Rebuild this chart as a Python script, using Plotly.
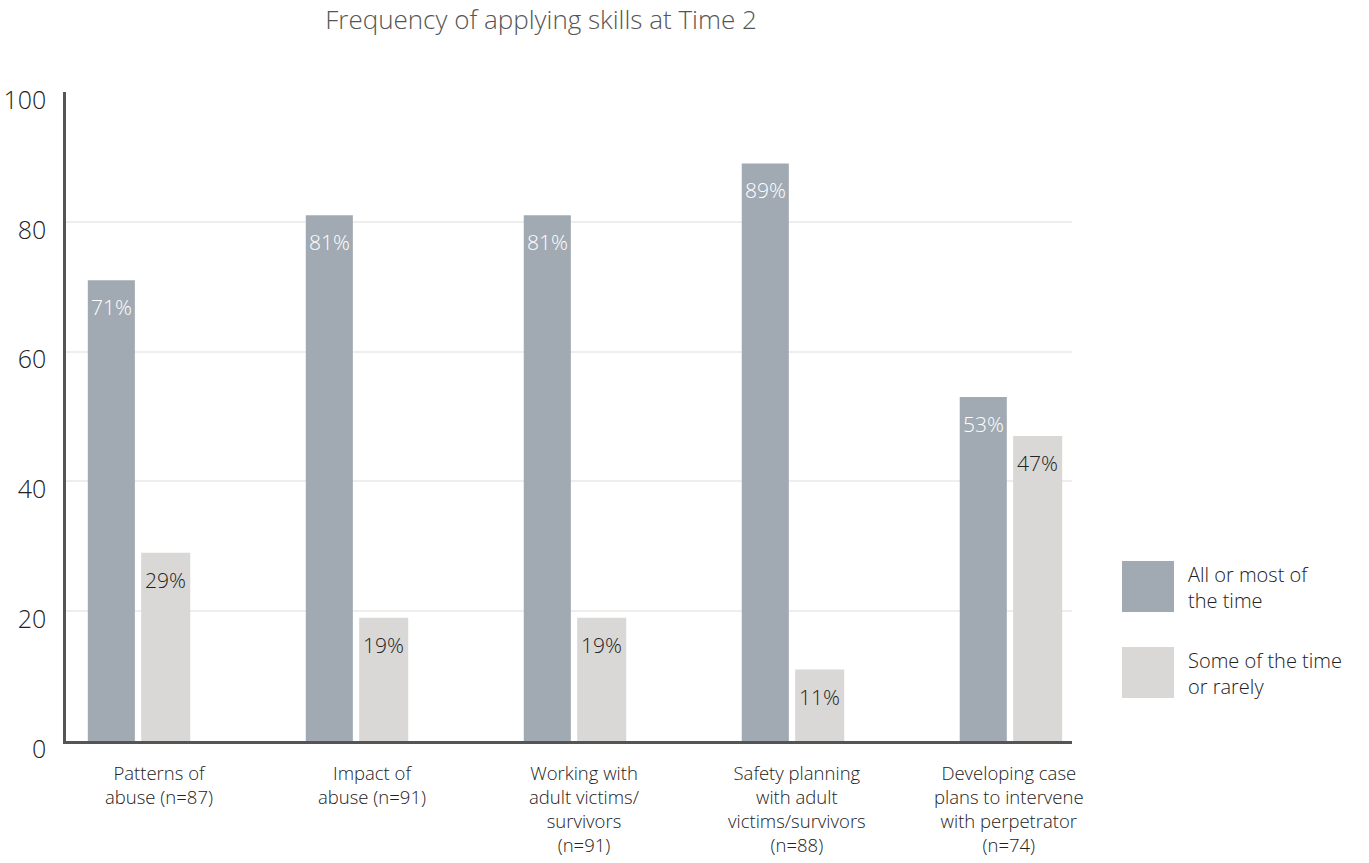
import plotly.graph_objects as go

categories = [
    "Patterns of<br>abuse (n=87)",
    "Impact of<br>abuse (n=91)",
    "Working with<br>adult victims/<br>survivors<br>(n=91)",
    "Safety planning<br>with adult<br>victims/survivors<br>(n=88)",
    "Developing case<br>plans to intervene<br>with perpetrator<br>(n=74)",
]
all_most = [71, 81, 81, 89, 53]
some_rarely = [29, 19, 19, 11, 47]
series_names = ["All or most of<br>the time", "Some of the time<br>or rarely"]
y_ticks = [0, 20, 40, 60, 80, 100]

DARK = "#a1aab3"
LIGHT = "#d9d8d6"
FONT = "Open Sans, sans-serif"
TEXT = "#222222"

# plot area in pixels
L, R, T, B = 66, 1072, 92, 741
W, H = 1369, 863


def px_x(p):
    return (p - L) / (R - L)


def px_y(p):
    return (B - p) / (B - T)


x_idx = list(range(len(categories)))

fig = go.Figure()
series = [
    (all_most, series_names[0], DARK, -0.235, 0.216, "white"),
    (some_rarely, series_names[1], LIGHT, 0.01, 0.225, TEXT),
]
for values, name, color, off, w, tcolor in series:
    fig.add_trace(go.Bar(
        x=x_idx, y=values, name=name,
        marker=dict(color=color, line=dict(width=0)),
        width=w, offset=off, showlegend=False,
    ))
    # value labels just below the top of each bar
    for xi, v in zip(x_idx, values):
        fig.add_annotation(
            x=xi + off + w / 2, y=v, text=f"{v}%", showarrow=False,
            xanchor="center", yanchor="middle", yshift=-27,
            font=dict(size=21, color=tcolor, family=FONT, weight=300),
        )

# category labels under the axis
for xi, label in zip(x_idx, categories):
    fig.add_annotation(
        x=0.092 + 0.975 * xi, xref="x", y=0, yref="paper",
        text=label, showarrow=False, xanchor="center", yanchor="top",
        align="center", yshift=-17,
        font=dict(size=18.5, color=TEXT, family=FONT, weight=300),
    )

# legend drawn as large swatches with labels
swatch_tops = [561, 647]
for name, color, top in zip(series_names, [DARK, LIGHT], swatch_tops):
    fig.add_shape(type="rect", xref="paper", yref="paper",
                  x0=px_x(1122), x1=px_x(1174), y0=px_y(top + 51), y1=px_y(top),
                  fillcolor=color, line=dict(width=0))
    fig.add_annotation(xref="paper", yref="paper", x=px_x(1186),
                       y=px_y(top + 26), text=name, showarrow=False,
                       xanchor="left", yanchor="middle", align="left",
                       font=dict(size=20, color=TEXT, family=FONT, weight=300))

fig.update_layout(
    width=W, height=H,
    margin=dict(l=L, r=W - R, t=T, b=H - B),
    paper_bgcolor="white", plot_bgcolor="white",
    font=dict(family=FONT, color=TEXT),
    title=dict(text="Frequency of applying skills at Time 2",
               x=541 / W, xanchor="center", y=1 - 20 / H, yanchor="middle",
               font=dict(size=26, color="#555555", family=FONT, weight=300)),
    barmode="overlay",
    xaxis=dict(
        tickmode="array", tickvals=x_idx, showticklabels=False,
        range=[-0.335, 4.28], showgrid=False, automargin=False,
        showline=True, linecolor="#555555", linewidth=2.5,
        ticks="", zeroline=False, fixedrange=True,
    ),
    yaxis=dict(
        range=[0, 100], tickvals=y_ticks, automargin=False,
        showgrid=True, gridcolor="#eeeeee", gridwidth=2,
        showline=True, linecolor="#555555", linewidth=2.5,
        ticks="", ticklabelstandoff=12, ticklabelshift=8,
        tickfont=dict(size=25, color=TEXT, family=FONT, weight=300),
        zeroline=False, fixedrange=True,
    ),
)

fig.write_html("out.html")
